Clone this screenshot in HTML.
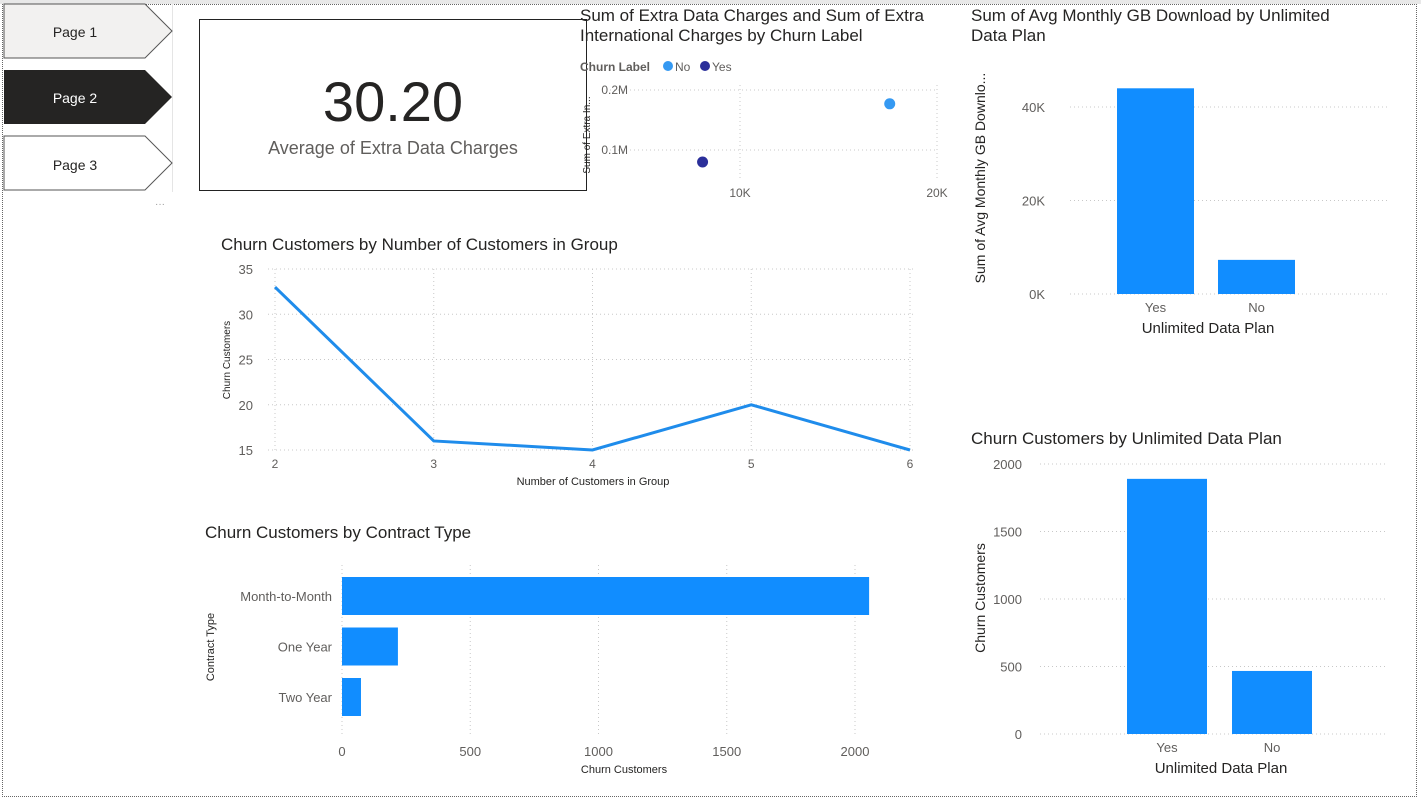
<!DOCTYPE html>
<html><head><meta charset="utf-8"><style>
body{margin:0;width:1421px;height:802px;background:#fff;font-family:"Liberation Sans",sans-serif;overflow:hidden;position:relative}
.t{position:absolute;color:#252423;font-size:17px;line-height:20px}
svg text{font-family:"Liberation Sans",sans-serif}
</style></head><body>
<div style="position:absolute;left:2px;top:4px;width:1415px;height:793px;border:1px dotted #666;box-sizing:border-box"></div>
<div style="position:absolute;left:0;top:0;width:1421px;height:4px;background:#e8e8e8"></div>
<svg width="175" height="215" style="position:absolute;left:0;top:0">
<rect x="172" y="4" width="1" height="188" fill="#e5e5e5"/>
<g><polygon points="4,4 145,4 172,31 145,58 4,58" fill="#f2f1f0" stroke="#555" stroke-width="1"/><text x="75" y="37" font-size="14" text-anchor="middle" fill="#252423">Page 1</text></g>
<g><polygon points="4,70 145,70 172,97 145,124 4,124" fill="#252423"/><text x="75" y="103" font-size="14" text-anchor="middle" fill="#fff">Page 2</text></g>
<g><polygon points="4,136 145,136 172,163 145,190 4,190" fill="#fff" stroke="#555" stroke-width="1"/><text x="75" y="170" font-size="14" text-anchor="middle" fill="#252423">Page 3</text></g>
<text x="160" y="207" font-size="10" text-anchor="middle" fill="#999">···</text>
</svg>
<div style="position:absolute;left:199px;top:19px;width:388px;height:172px;border:1.5px solid #222;box-sizing:border-box">
<div style="position:absolute;left:0;width:100%;top:50px;text-align:center;font-size:56px;line-height:64px;color:#252423">30.20</div>
<div style="position:absolute;left:0;width:100%;top:118px;text-align:center;font-size:18px;color:#605e5c">Average of Extra Data Charges</div>
</div>
<div class="t" style="left:580px;top:6px">Sum of Extra Data Charges and Sum of Extra<br>International Charges by Churn Label</div>
<div class="t" style="left:221px;top:235px">Churn Customers by Number of Customers in Group</div>
<div class="t" style="left:205px;top:523px">Churn Customers by Contract Type</div>
<div class="t" style="left:971px;top:6px">Sum of Avg Monthly GB Download by Unlimited<br>Data Plan</div>
<div class="t" style="left:971px;top:429px">Churn Customers by Unlimited Data Plan</div>
<svg id="c" width="1421" height="802" style="position:absolute;left:0;top:0"></svg>
<script>
// scatter
const scLabels=["No","Yes"];
const scX=[17600,8100];
const scY=[177000,80000];
const scXTicks=[10000,20000];const scXTickLabels=["10K","20K"];
const scYTicks=[100000,200000];const scYTickLabels=["0.1M","0.2M"];
// line
const lnX=[2,3,4,5,6];
const lnY=[33,16,15,20,15];
const lnYTicks=[15,20,25,30,35];
// hbar
const hbCats=["Month-to-Month","One Year","Two Year"];
const hbVals=[2055,218,74];
const hbTicks=[0,500,1000,1500,2000];
// gb bar
const gbCats=["Yes","No"];
const gbVals=[44000,7300];
const gbTicks=[0,20000,40000];const gbTickLabels=["0K","20K","40K"];
// churn bar
const cbCats=["Yes","No"];
const cbVals=[1890,467];
const cbTicks=[0,500,1000,1500,2000];

const S=document.getElementById('c');const NS="http://www.w3.org/2000/svg";
function el(t,a,txt){const e=document.createElementNS(NS,t);for(const k in a)e.setAttribute(k,a[k]);if(txt!==undefined)e.textContent=txt;S.appendChild(e);return e;}
const grid={stroke:"#c8c8c8","stroke-dasharray":"1,3","stroke-width":1};

// scatter axes
const sx=v=>543+v*(197/10000), sy=v=>210-v*(60/100000);
scYTicks.forEach((v,i)=>{const g=el('line',Object.assign({x1:610,x2:937,y1:sy(v),y2:sy(v)},grid));
const t=el('text',{x:628,y:sy(v)+4,"font-size":12,fill:"#605e5c","text-anchor":"end"},scYTickLabels[i]);});
scXTicks.forEach((v,i)=>{const g=el('line',Object.assign({x1:sx(v),x2:sx(v),y1:85,y2:178},grid));
const t=el('text',{x:sx(v),y:197,"font-size":12,fill:"#605e5c","text-anchor":"middle"},scXTickLabels[i]);});
{const t=el('text',{x:590,y:135,"font-size":10,fill:"#252423","text-anchor":"middle",transform:"rotate(-90 590 135)"},"Sum of Extra In...");}
const scCol=["#3599f2","#2b2f9a"];
scLabels.forEach((l,i)=>{const c=el('circle',{cx:sx(scX[i]),cy:sy(scY[i]),r:5.5,fill:scCol[i]});});
{const t=el('text',{x:580,y:71,"font-size":12,"font-weight":"bold",fill:"#605e5c"},"Churn Label");}
[[668,"No"],[705,"Yes"]].forEach((p,i)=>{const c=el('circle',{cx:p[0],cy:66,r:5,fill:scCol[i]});
const t=el('text',{x:p[0]+7,y:71,"font-size":12,fill:"#605e5c"},p[1]);});

// line chart
const lx=v=>275+(v-2)*(635/4), ly=v=>450-(v-15)*(181/20);
lnYTicks.forEach(v=>{const g=el('line',Object.assign({x1:268,x2:915,y1:ly(v),y2:ly(v)},grid));
const t=el('text',{x:253,y:ly(v)+5,"font-size":13,fill:"#605e5c","text-anchor":"end"},v);});
lnX.forEach(v=>{const g=el('line',Object.assign({x1:lx(v),x2:lx(v),y1:269,y2:452},grid));
const t=el('text',{x:lx(v),y:468,"font-size":12,fill:"#605e5c","text-anchor":"middle"},v);});
{const p=el('polyline',{points:lnX.map((v,i)=>lx(v)+","+ly(lnY[i])).join(" "),fill:"none",stroke:"#1f8ceb","stroke-width":3});}
{const t=el('text',{x:593,y:485,"font-size":11,fill:"#252423","text-anchor":"middle"},"Number of Customers in Group");}
{const t=el('text',{x:230,y:360,"font-size":10,fill:"#252423","text-anchor":"middle",transform:"rotate(-90 230 360)"},"Churn Customers");}

// hbar
const hx=v=>342+v*(513/2000);
hbTicks.forEach(v=>{const g=el('line',Object.assign({x1:hx(v),x2:hx(v),y1:565,y2:735},grid));
const t=el('text',{x:hx(v),y:756,"font-size":13,fill:"#605e5c","text-anchor":"middle"},v);});
hbCats.forEach((c,i)=>{const y=577+i*50.5;const r=el('rect',{x:342,y:y,width:hx(hbVals[i])-342,height:38,fill:"#118dff"});
const t=el('text',{x:332,y:y+24,"font-size":13,fill:"#605e5c","text-anchor":"end"},c);});
{const t=el('text',{x:624,y:773,"font-size":11,fill:"#252423","text-anchor":"middle"},"Churn Customers");}
{const t=el('text',{x:214,y:647,"font-size":11,fill:"#252423","text-anchor":"middle",transform:"rotate(-90 214 647)"},"Contract Type");}

// gb bar
const gy=v=>294-v*(187/40000);
gbTicks.forEach((v,i)=>{const g=el('line',Object.assign({x1:1070,x2:1388,y1:gy(v),y2:gy(v)},grid));
const t=el('text',{x:1045,y:gy(v)+5,"font-size":13,fill:"#605e5c","text-anchor":"end"},gbTickLabels[i]);});
gbCats.forEach((c,i)=>{const x=1117+i*101;const r=el('rect',{x:x,y:gy(gbVals[i]),width:77,height:294-gy(gbVals[i]),fill:"#118dff"});
const t=el('text',{x:x+38.5,y:312,"font-size":13,fill:"#605e5c","text-anchor":"middle"},c);});
{const t=el('text',{x:1208,y:333,"font-size":15,fill:"#252423","text-anchor":"middle"},"Unlimited Data Plan");}
{const t=el('text',{x:985,y:178,"font-size":14,fill:"#252423","text-anchor":"middle",transform:"rotate(-90 985 178)"},"Sum of Avg Monthly GB Downlo...");}

// churn bar
const cy=v=>734-v*(270/2000);
cbTicks.forEach(v=>{const g=el('line',Object.assign({x1:1040,x2:1388,y1:cy(v),y2:cy(v)},grid));
const t=el('text',{x:1022,y:cy(v)+5,"font-size":13,fill:"#605e5c","text-anchor":"end"},v);});
cbCats.forEach((c,i)=>{const x=1127+i*105;const r=el('rect',{x:x,y:cy(cbVals[i]),width:80,height:734-cy(cbVals[i]),fill:"#118dff"});
const t=el('text',{x:x+40,y:752,"font-size":13,fill:"#605e5c","text-anchor":"middle"},c);});
{const t=el('text',{x:1221,y:773,"font-size":15,fill:"#252423","text-anchor":"middle"},"Unlimited Data Plan");}
{const t=el('text',{x:985,y:598,"font-size":14,fill:"#252423","text-anchor":"middle",transform:"rotate(-90 985 598)"},"Churn Customers");}
</script>
</body></html>
